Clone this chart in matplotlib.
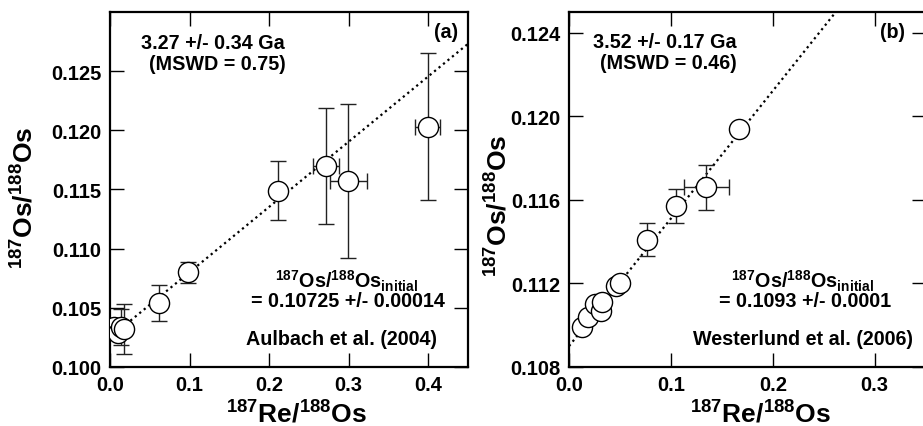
import numpy as np
import matplotlib
matplotlib.use("Agg")
import matplotlib.pyplot as plt

plt.rcParams['font.family'] = ['Liberation Sans', 'DejaVu Sans']
plt.rcParams['font.weight'] = 'bold'
plt.rcParams['mathtext.default'] = 'regular'

# panel (a): Aulbach et al. (2004)
a_re = [0.0055, 0.0105, 0.0135, 0.018, 0.062, 0.0977, 0.2117, 0.2717, 0.2998, 0.3996]
a_os = [0.1034, 0.1029, 0.1034, 0.1032, 0.1054, 0.1080, 0.1149, 0.1170, 0.1157, 0.1203]
a_os_err = [0, 0, 0.0015, 0.0021, 0.0015, 0.0009, 0.0025, 0.0049, 0.0065, 0.0062]
a_re_err = [0, 0, 0, 0, 0, 0, 0, 0.016, 0.0235, 0.016]
a_slope, a_icpt = 0.0551, 0.1025

# panel (b): Westerlund et al. (2006)
b_re = [0.0124, 0.0182, 0.0254, 0.0312, 0.0319, 0.0459, 0.0498, 0.0761, 0.1054, 0.1349, 0.1668]
b_os = [0.1099, 0.1104, 0.1110, 0.1107, 0.1111, 0.1119, 0.1120, 0.1141, 0.1157, 0.1166, 0.1194]
b_os_err = [0, 0, 0, 0, 0, 0, 0, 0.0008, 0.0008, 0.00107, 0]
b_re_err = [0, 0, 0, 0, 0, 0, 0, 0, 0, 0.022, 0]
b_slope, b_icpt = 0.0611, 0.1090

XLABEL = r'$^{187}$Re/$^{188}$Os'
YLABEL = r'$^{187}$Os/$^{188}$Os'
INIT = r'$^{187}$Os/$^{188}$Os$_{initial}$'

fig = plt.figure(figsize=(9.23, 4.27), dpi=100)
axA = fig.add_axes([0.1192, 0.1382, 0.3876, 0.8314])
axB = fig.add_axes([0.6165, 0.1382, 0.3863, 0.8314])


def style(ax):
    for s in ax.spines.values():
        s.set_linewidth(1.6)
    ax.tick_params(direction='in', length=10, width=1, top=True, right=True,
                   labelsize=14.5, pad=6)
    for lab in ax.get_xticklabels() + ax.get_yticklabels():
        lab.set_fontweight('bold')


def panel(ax, x, y, xe, ye, slope, icpt, x0, xmax):
    xx = np.array([x0, xmax])
    ax.plot(xx, icpt + slope * xx, color='k', ls=(0, (1, 1.6)), lw=1.6, zorder=1)
    xe = [v if v > 0 else np.nan for v in xe]
    ye = [v if v > 0 else np.nan for v in ye]
    ax.errorbar(x, y, xerr=xe, yerr=ye, fmt='none', ecolor='#222222',
                elinewidth=1, capsize=6, capthick=1, zorder=2)
    ax.plot(x, y, 'o', ms=14.5, mfc='white', mec='k', mew=1, zorder=3)


panel(axA, a_re, a_os, a_re_err, a_os_err, a_slope, a_icpt, 0.02, 0.45)
axA.set_xlim(0, 0.45)
axA.set_ylim(0.100, 0.130)
axA.set_xticks([0.0, 0.1, 0.2, 0.3, 0.4])
axA.set_xticklabels(['0.0', '0.1', '0.2', '0.3', '0.4'])
axA.set_yticks([0.100, 0.105, 0.110, 0.115, 0.120, 0.125])
axA.set_yticklabels(['0.100', '0.105', '0.110', '0.115', '0.120', '0.125'])
style(axA)

panel(axB, b_re, b_os, b_re_err, b_os_err, b_slope, b_icpt, 0.0, 0.35)
axB.set_xlim(0, 0.35)
axB.set_ylim(0.108, 0.125)
axB.set_xticks([0.0, 0.1, 0.2, 0.3])
axB.set_xticklabels(['0.0', '0.1', '0.2', '0.3'])
axB.set_yticks([0.108, 0.112, 0.116, 0.120, 0.124])
axB.set_yticklabels(['0.108', '0.112', '0.116', '0.120', '0.124'])
style(axB)

tk = dict(fontsize=14.2, fontweight='bold', ha='center', va='center')

# labels
for ax, xl, yl in [(axA, (0.52, -0.132), (-0.238, 0.479)),
                   (axB, (0.536, -0.132), (-0.199, 0.456))]:
    ax.text(xl[0], xl[1], XLABEL, transform=ax.transAxes, fontsize=19,
            fontweight='bold', ha='center', va='center')
    ax.text(yl[0], yl[1], YLABEL, transform=ax.transAxes, fontsize=19,
            fontweight='bold', ha='center', va='center', rotation=90)

# annotations (a)
axA.text(0.288, 0.915, '3.27 +/- 0.34 Ga', transform=axA.transAxes, **tk)
axA.text(0.299, 0.856, '(MSWD = 0.75)', transform=axA.transAxes, **tk)
axA.text(0.973, 0.946, '(a)', transform=axA.transAxes, fontsize=14.2,
         fontweight='bold', ha='right', va='center')
axA.text(0.662, 0.245, INIT, transform=axA.transAxes, **tk)
axA.text(0.665, 0.186, '= 0.10725 +/- 0.00014', transform=axA.transAxes, **tk)
axA.text(0.648, 0.079, 'Aulbach et al. (2004)', transform=axA.transAxes, **tk)

# annotations (b)
axB.text(0.269, 0.918, '3.52 +/- 0.17 Ga', transform=axB.transAxes, **tk)
axB.text(0.278, 0.859, '(MSWD = 0.46)', transform=axB.transAxes, **tk)
axB.text(0.942, 0.946, '(b)', transform=axB.transAxes, fontsize=14.2,
         fontweight='bold', ha='right', va='center')
axB.text(0.656, 0.245, INIT, transform=axB.transAxes, **tk)
axB.text(0.662, 0.186, '= 0.1093 +/- 0.0001', transform=axB.transAxes, **tk)
axB.text(0.656, 0.079, 'Westerlund et al. (2006)', transform=axB.transAxes, **tk)

fig.savefig('out.png', dpi=100)
